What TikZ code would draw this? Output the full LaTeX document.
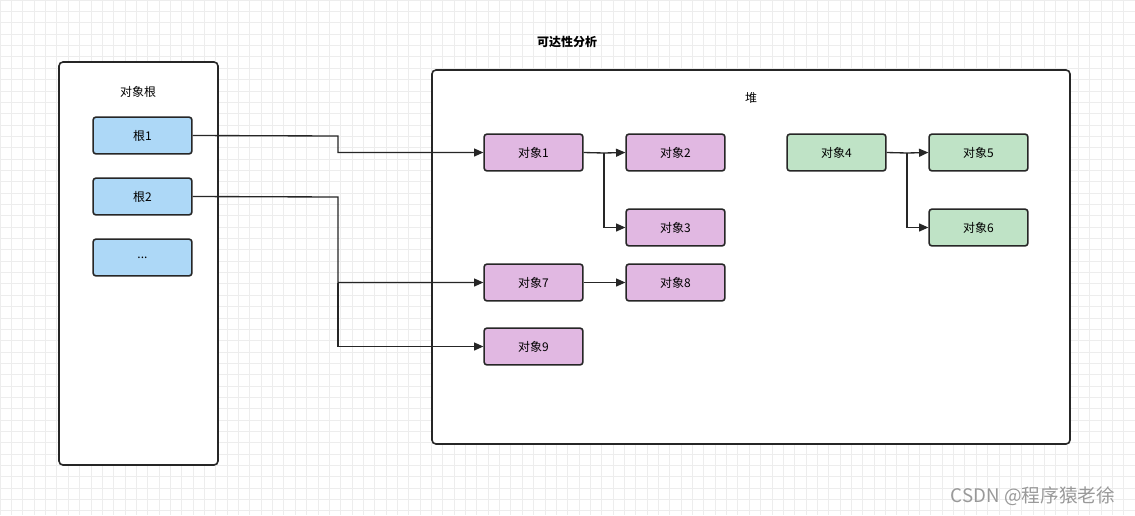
\documentclass[tikz,border=0pt]{standalone}
\usepackage{fontspec}
\setmainfont{Noto Sans CJK SC}
\usetikzlibrary{arrows.meta}
\definecolor{blu}{HTML}{ADD8F7}
\definecolor{pur}{HTML}{E1B8E2}
\definecolor{grn}{HTML}{BFE3C6}
\begin{document}
\begin{tikzpicture}[x=0.75pt,y=-0.75pt,
  box/.style={draw=black!85,line width=1.2pt,rounded corners=2pt,minimum width=74pt,minimum height=27.5pt,inner sep=0pt,font=\fontsize{9}{10}\selectfont},
  cont/.style={draw=black!85,line width=1.2pt,rounded corners=3pt},
  arr/.style={draw=black!85,line width=1pt,-{Triangle[length=7pt,width=6pt]}},
  lbl/.style={font=\fontsize{9}{10}\selectfont,inner sep=0pt}]
\useasboundingbox (0,0) rectangle (1135,515);
\fill[white] (0,0) rectangle (1135,515);
\foreach \x in {0,11.35,...,1135} \draw[black!7,line width=0.4pt] (\x,0) -- (\x,515);
\foreach \y in {0,11.35,...,515} \draw[black!7,line width=0.4pt] (0,\y) -- (1135,\y);
\node[lbl,font=\fontsize{9}{10}\selectfont\bfseries] (title) at (567,42) {可达性分析};
\draw[cont,fill=white] (59,62) rectangle (218,465);
\node[lbl] (roots) at (138,92) {对象根};
\draw[cont,fill=white] (432,70) rectangle (1070,444);
\node[lbl] (heap) at (751,98) {堆};
\node[box,fill=blu] (r1) at (142.5,135.5) {根1};
\node[box,fill=blu] (r2) at (142.5,196.5) {根2};
\node[box,fill=blu] (r3) at (142.5,257.5) {...};
\node[box,fill=pur] (o1) at (533.5,152.5) {对象1};
\node[box,fill=pur] (o2) at (675.5,152.5) {对象2};
\node[box,fill=pur] (o3) at (675.5,227.5) {对象3};
\node[box,fill=pur] (o7) at (533.5,282.5) {对象7};
\node[box,fill=pur] (o8) at (675.5,282.5) {对象8};
\node[box,fill=pur] (o9) at (533.5,346.5) {对象9};
\node[box,fill=grn] (o4) at (836.5,152.5) {对象4};
\node[box,fill=grn] (o5) at (978.5,152.5) {对象5};
\node[box,fill=grn] (o6) at (978.5,227.5) {对象6};
\draw[arr] (r1.east) -- (338,136) -- (338,152.5) -- (o1.west);
\draw[arr] (r2.east) -- (338,197) -- (338,282.5) -- (o7.west);
\draw[arr] (338,282.5) -- (338,346.5) -- (o9.west);
\draw[arr] (o1.east) -- (604,153) -- (o2.west);
\draw[arr] (604,153) -- (604,227.5) -- (o3.west);
\draw[arr] (o7.east) -- (o8.west);
\draw[arr] (o4.east) -- (907,153) -- (o5.west);
\draw[arr] (907,153) -- (907,227.5) -- (o6.west);
\node[lbl,font=\fontsize{14}{16}\selectfont,text=black!40] (wm) at (1033,496) {CSDN @程序猿老徐};
\end{tikzpicture}
\end{document}
